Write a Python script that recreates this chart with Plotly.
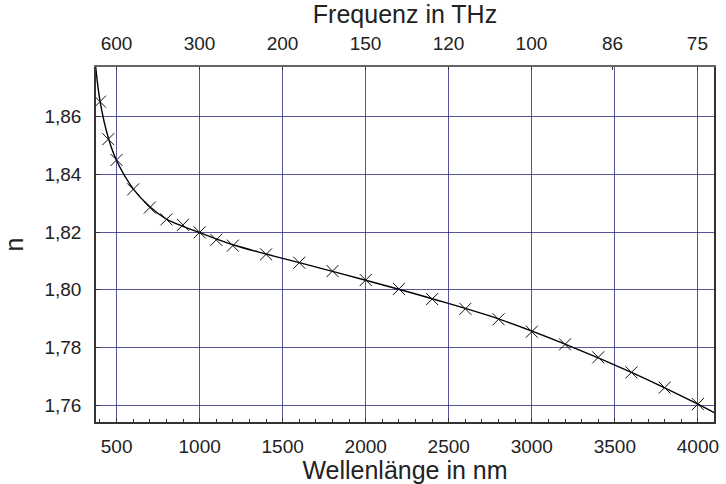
import plotly.graph_objects as go

# Measured points (wavelength in nm, refractive index n)
wavelength_nm = [400, 450, 500, 600, 700, 800, 900, 1000, 1100, 1200, 1400, 1600,
                 1800, 2000, 2200, 2400, 2600, 2800, 3000, 3200, 3400, 3600, 3800, 4000]
n_values = [1.8652, 1.8522, 1.8450, 1.8348, 1.8285, 1.8244, 1.8225, 1.8199, 1.8173,
            1.8153, 1.8123, 1.8094, 1.8065, 1.8034, 1.8003, 1.7968, 1.7934, 1.7898,
            1.7855, 1.7811, 1.7766, 1.7714, 1.7661, 1.7604]

# Fit curve
curve_wl = [372, 400, 450, 500, 600, 700, 800, 900, 1000, 1200, 1400, 1600, 2000,
            2400, 2800, 3200, 3600, 4000, 4100]
curve_n = [1.8785, 1.8655, 1.8527, 1.8448, 1.8350, 1.8288, 1.8245, 1.8220, 1.8198,
           1.8156, 1.8124, 1.8094, 1.8033, 1.7969, 1.7899, 1.7812, 1.7714, 1.7604, 1.7574]

# Top axis: frequency tick labels (THz)
freq_labels = [600, 300, 200, 150, 120, 100, 86, 75]
C_NM_THZ = 299792.458
freq_pos = [C_NM_THZ / f for f in freq_labels]

x_range = [376, 4097]
y_range = [1.7542, 1.8772]

font_family = "Liberation Sans, Arial, sans-serif"
text_color = "#222222"
grid_color = "rgba(30,30,120,0.75)"
axis_color = "#333333"

fig = go.Figure()
fig.add_trace(go.Scatter(x=curve_wl, y=curve_n, mode="lines",
                         line=dict(color="black", width=1.4, shape="spline", smoothing=1.0),
                         showlegend=False, hoverinfo="skip", cliponaxis=True))
fig.add_trace(go.Scatter(x=wavelength_nm, y=n_values, mode="markers",
                         marker=dict(symbol="x-thin", size=12, line=dict(color="#111111", width=1)),
                         showlegend=False))
# invisible trace to activate the top axis
fig.add_trace(go.Scatter(x=[x_range[0]], y=[y_range[0]], xaxis="x2", mode="markers",
                         marker=dict(opacity=0), showlegend=False, hoverinfo="skip"))

fig.update_layout(
    width=726, height=484,
    margin=dict(l=96, r=7, t=67, b=62),
    paper_bgcolor="white", plot_bgcolor="white",
    separators=",.",
    font=dict(family=font_family, color=text_color, size=19),
    xaxis=dict(
        range=x_range, tick0=500, dtick=500,
        showgrid=True, gridcolor=grid_color, gridwidth=1.2,
        zeroline=False,
        showline=True, linecolor=axis_color, linewidth=1.5, mirror=False,
        ticks="inside", ticklen=4, tickcolor=axis_color,
        minor=dict(dtick=100, tick0=0, ticks="inside", ticklen=3, tickcolor=axis_color, showgrid=False),
        tickfont=dict(size=19),
        ticklabelstandoff=6,
        title=dict(text="Wellenlänge in nm", font=dict(size=25), standoff=3),
    ),
    xaxis2=dict(
        overlaying="x", side="top", range=x_range,
        tickmode="array", tickvals=freq_pos, ticktext=[str(f) for f in freq_labels],
        showgrid=False, zeroline=False,
        showline=True, linecolor="#666666", linewidth=1.5,
        ticks="inside", ticklen=3, tickcolor=axis_color,
        tickfont=dict(size=19),
        ticklabelstandoff=8,
        title=dict(text="Frequenz in THz", font=dict(size=25), standoff=4),
    ),
    yaxis=dict(
        range=y_range, tick0=1.76, dtick=0.02, tickformat=".2f",
        showgrid=True, gridcolor=grid_color, gridwidth=1.2,
        zeroline=False,
        showline=True, linecolor=axis_color, linewidth=1.5, mirror=True,
        ticks="inside", ticklen=4, tickcolor=axis_color,
        tickfont=dict(size=19),
        ticklabelstandoff=9,
        title=dict(text="n", font=dict(size=25), standoff=18),
    ),
)

fig.write_html("out.html")
